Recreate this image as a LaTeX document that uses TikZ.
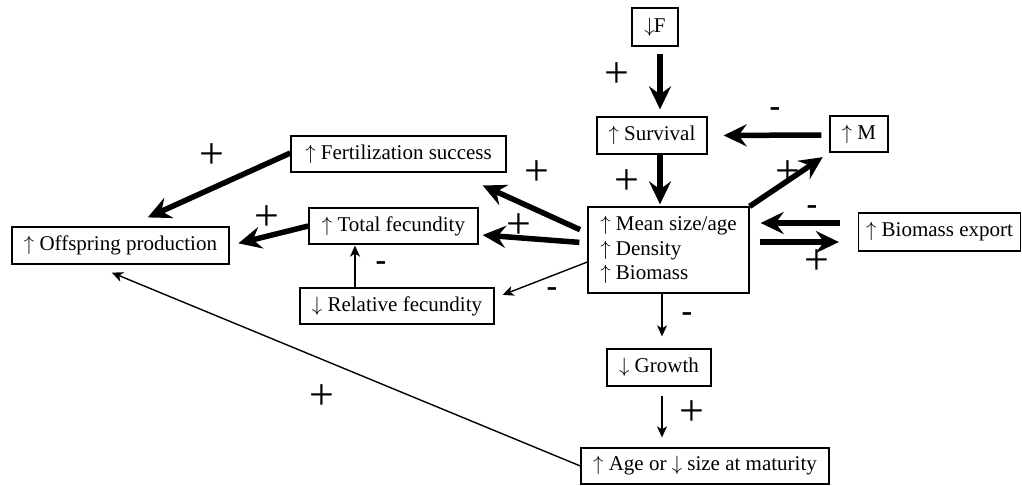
\documentclass[tikz,border=0pt]{standalone}
\usepackage{fontspec}
\setmainfont{Liberation Serif}
\usetikzlibrary{arrows.meta,calc}
\newcommand{\UA}{$\uparrow$}
\newcommand{\DA}{$\downarrow$}
\begin{document}
\begin{tikzpicture}[x=1pt,y=-1pt,
 box/.style={draw,line width=1.3pt,inner sep=0pt,font=\fontsize{21}{24.5}\selectfont},
 bigarrow/.style={line width=5.5pt,-{Stealth[length=23pt,width=22pt,inset=8pt]}},
 smallarrow/.style={line width=1.4pt,-{Stealth[length=11pt,width=10pt,inset=3pt]}},
 plus/.style={font=\fontsize{44}{44}\selectfont,inner sep=0pt},
 minus/.style={font=\fontsize{32}{32}\selectfont\bfseries,inner sep=0pt}]
\useasboundingbox (0,0) rectangle (1022,485);

% boxes
\node[box,minimum width=46pt,minimum height=38pt] (F) at (655,27) {\DA\kern-1pt F};
\node[box,minimum width=110pt,minimum height=37pt] (surv) at (652,135.5) {\UA\ Survival};
\node[box,minimum width=58pt,minimum height=36pt] (M) at (859,134) {\UA\ M};
\node[box,minimum width=161pt,minimum height=86pt,align=left] (mean) at (668.5,250) {\UA\ Mean size/age\\\UA\ Density\\\UA\ Biomass};
\node[box,minimum width=162pt,minimum height=38pt] (export) at (939.5,232) {\UA\ Biomass export};
\node[box,minimum width=215pt,minimum height=36pt] (fert) at (398.5,154) {\UA\ Fertilization success};
\node[box,minimum width=169pt,minimum height=36pt] (total) at (393.5,226) {\UA\ Total fecundity};
\node[box,minimum width=194pt,minimum height=36pt] (rel) at (397,306) {\DA\ Relative fecundity};
\node[box,minimum width=217pt,minimum height=37pt] (off) at (120.5,245.5) {\UA\ Offspring production};
\node[box,minimum width=104pt,minimum height=37pt] (growth) at (659,367.5) {\DA\ Growth};
\node[box,minimum width=248pt,minimum height=36pt] (age) at (705,466) {\UA\ Age or \DA\ size at maturity};

% connectors
\draw[bigarrow,shorten <=7pt,shorten >=7pt] ([xshift=5pt]F.south) -- ([xshift=8pt]surv.north);
\draw[bigarrow,shorten <=8pt,shorten >=16pt] ([yshift=-1pt]M.west) -- (surv.east);
\draw[bigarrow,shorten >=2pt] ([xshift=8pt]surv.south) -- ([xshift=-8.5pt]mean.north);
\draw[bigarrow,shorten >=8pt] (mean.north east) -- (M.south west);
\draw[bigarrow,shorten <=18pt,shorten >=11pt] ([yshift=9pt]export.west) -- ([yshift=27pt]mean.east);
\draw[bigarrow,shorten <=10pt,shorten >=19pt] ([yshift=8pt]mean.east) -- ([yshift=-10pt]export.west);
\draw[smallarrow,shorten >=12pt] ([xshift=-6.5pt]mean.south) -- ([xshift=3pt]growth.north);
\draw[smallarrow,shorten <=9pt,shorten >=10pt] ([xshift=3pt]growth.south) -- ([xshift=-43pt]age.north);
\draw[smallarrow,shorten >=21pt] (age.west) -- ([xshift=-28pt]off.south);
\draw[bigarrow,shorten <=8pt,shorten >=31pt] ([yshift=17pt]mean.west) -- ([xshift=56pt]fert.south);
\draw[bigarrow,shorten <=8pt,shorten >=4pt] ([yshift=7pt]mean.west) -- ([yshift=-8.7pt]total.east);
\draw[smallarrow,shorten >=8.6pt] ([yshift=-12pt]mean.west) -- ([yshift=8pt]rel.east);
\draw[smallarrow,shorten >=1pt] ([xshift=-42pt]rel.north) -- ([xshift=-38.5pt]total.south);
\draw[bigarrow,shorten >=9pt] (total.west) -- (off.east);
\draw[bigarrow,shorten >=21.7pt] ([yshift=1pt]fert.west) -- ([xshift=7.5pt]off.north);

% signs
\node[plus] (p1) at (617,75) {+};
\node[minus] (m1) at (775,112) {-};
\node[plus] (p2) at (627,182) {+};
\node[plus] (p3) at (788,173) {+};
\node[minus] (m2) at (812,210) {-};
\node[plus] (p4) at (817,262) {+};
\node[minus] (m3) at (687,317) {-};
\node[plus] (p5) at (692,413) {+};
\node[plus] (p6) at (322,397) {+};
\node[plus] (p7) at (212,156) {+};
\node[plus] (p8) at (267,218) {+};
\node[plus] (p9) at (537,173) {+};
\node[plus] (p10) at (519,226) {+};
\node[minus] (m4) at (381,266) {-};
\node[minus] (m5) at (552,292) {-};
\end{tikzpicture}
\end{document}
